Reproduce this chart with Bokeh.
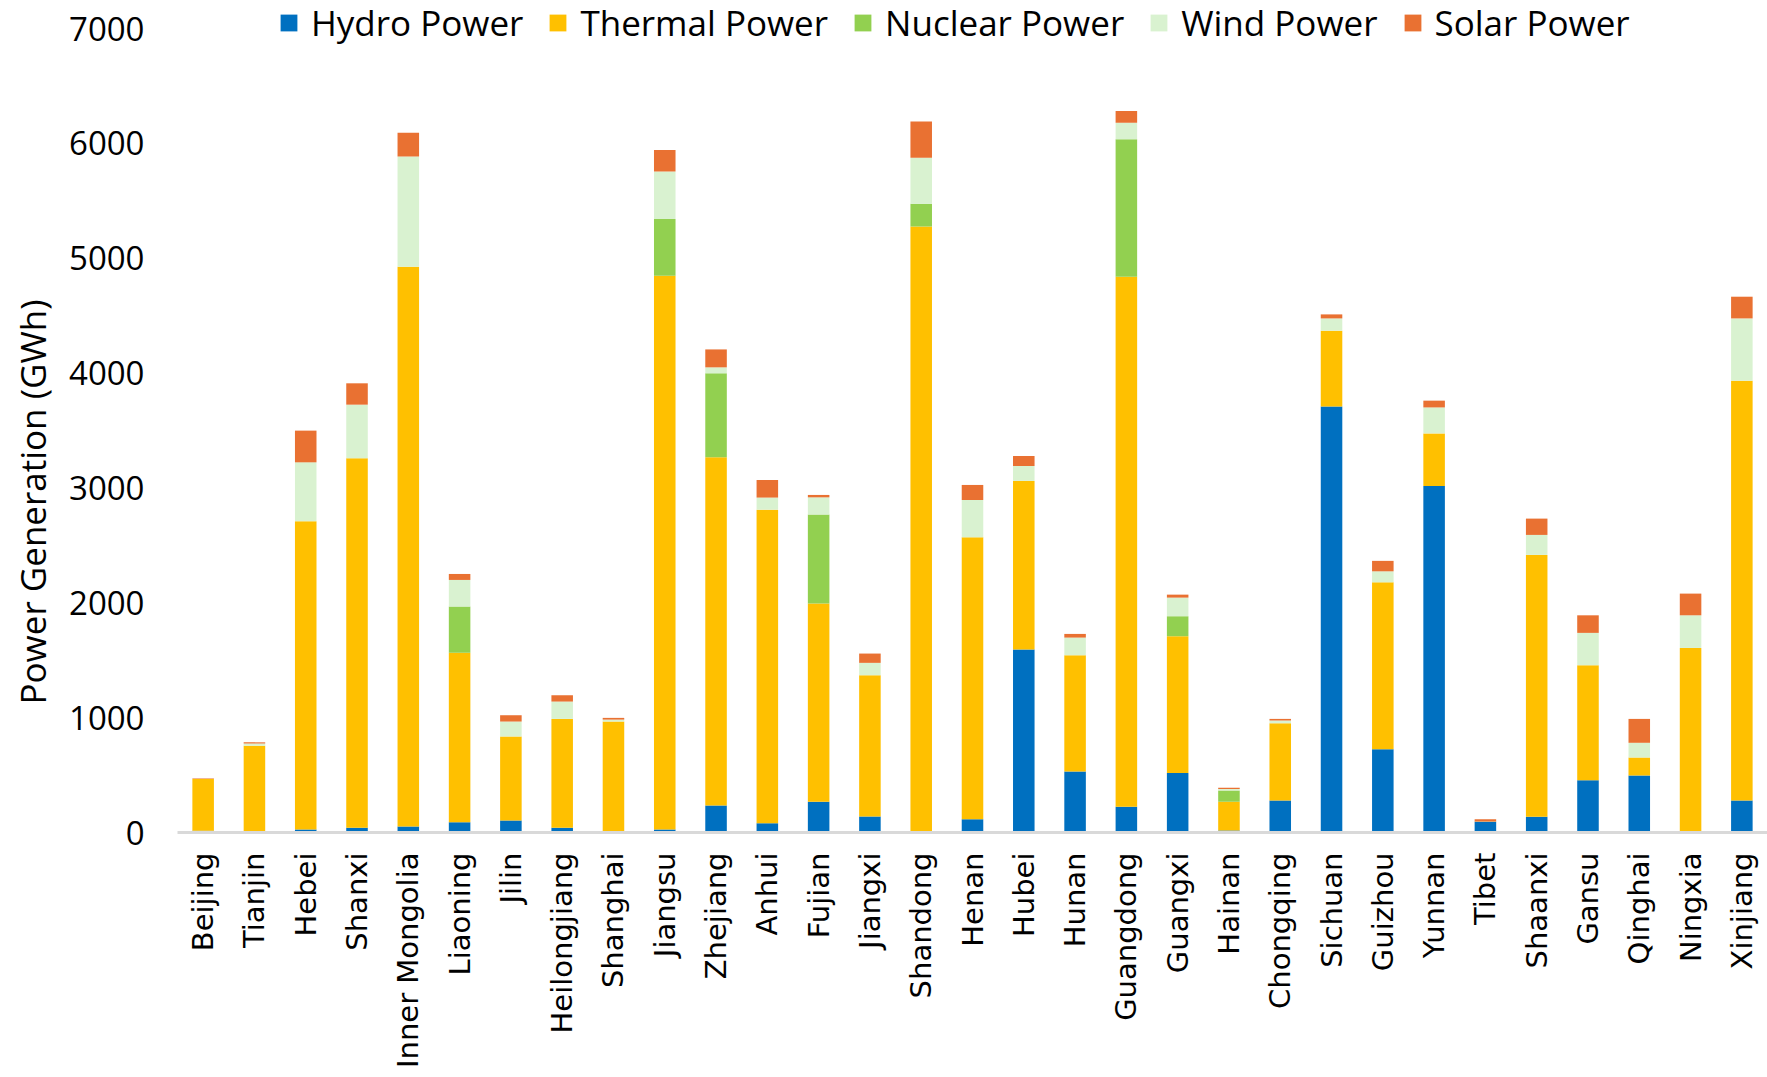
import math

from bokeh.embed import file_html
from bokeh.models import FactorRange, FixedTicker, Legend, LegendItem, Range1d, Title
from bokeh.plotting import figure
from bokeh.resources import INLINE

# Provincial power generation by source (GWh)
provinces = [
    "Beijing", "Tianjin", "Hebei", "Shanxi", "Inner Mongolia", "Liaoning", "Jilin",
    "Heilongjiang", "Shanghai", "Jiangsu", "Zhejiang", "Anhui", "Fujian", "Jiangxi",
    "Shandong", "Henan", "Hubei", "Hunan", "Guangdong", "Guangxi", "Hainan",
    "Chongqing", "Sichuan", "Guizhou", "Yunnan", "Tibet", "Shaanxi", "Gansu",
    "Qinghai", "Ningxia", "Xinjiang",
]
hydro = [15, 0, 26, 41, 52, 90, 104, 41, 0, 26, 235, 81, 267, 139, 0, 116, 1593,
         531, 224, 519, 17, 279, 3708, 725, 3017, 93, 137, 455, 496, 12, 279]
thermal = [450, 755, 2684, 3217, 4874, 1474, 732, 948, 966, 4822, 3032, 2730, 1726,
           1230, 5277, 2454, 1468, 1012, 4615, 1190, 250, 672, 661, 1453, 458, 2,
           2280, 1001, 157, 1595, 3655]
nuclear = [0, 0, 0, 0, 0, 403, 0, 0, 0, 493, 731, 0, 775, 0, 197, 0, 0, 0, 1198,
           174, 99, 0, 0, 0, 0, 0, 0, 0, 0, 0, 0]
wind = [3, 20, 513, 467, 960, 232, 130, 151, 17, 415, 52, 105, 150, 108, 401, 325,
        130, 154, 142, 162, 12, 24, 107, 96, 226, 0, 174, 282, 128, 284, 542]
solar = [5, 10, 276, 186, 206, 52, 55, 55, 15, 186, 156, 153, 21, 81, 316, 131, 87,
         32, 102, 26, 11, 14, 35, 91, 59, 21, 142, 153, 208, 189, 189]

sources = ["Hydro Power", "Thermal Power", "Nuclear Power", "Wind Power", "Solar Power"]
keys = ["hydro", "thermal", "nuclear", "wind", "solar"]
colors = ["#0070C0", "#FFC000", "#92D050", "#D9F2D0", "#E97132"]

data = dict(province=provinces, hydro=hydro, thermal=thermal, nuclear=nuclear,
            wind=wind, solar=solar)

FONT = "Open Sans"
FRAME_H = 832

p = figure(
    width=1767, height=1077,
    x_range=FactorRange(*provinces, range_padding=0),
    y_range=Range1d(0, 7244),
    output_backend="svg", toolbar_location=None,
    min_border_left=176, min_border_right=0, min_border_top=0, min_border_bottom=245,
    outline_line_color=None, background_fill_color="white", border_fill_color="white",
)

renderers = p.vbar_stack(keys, x="province", width=0.42, color=colors,
                         line_color=None, source=data)

p.xgrid.visible = False
p.ygrid.visible = False

# value axis
p.yaxis.ticker = FixedTicker(ticks=[0, 1000, 2000, 3000, 4000, 5000, 6000, 7000])
p.yaxis.axis_line_color = None
p.yaxis.major_tick_line_color = None
p.yaxis.minor_tick_line_color = None
p.yaxis.major_tick_out = 0
p.yaxis.major_label_standoff = 33
p.yaxis.major_label_text_font = FONT
p.yaxis.major_label_text_font_size = "33px"
p.yaxis.major_label_text_color = "black"

# value axis title, placed along the 0-7000 span (starts 128px above the baseline)
p.add_layout(Title(
    text="Power Generation (GWh)", align="left", vertical_align="top",
    offset=128, standoff=17,
    text_font=FONT, text_font_size="35px", text_font_style="normal",
    text_color="black",
), "left")

# province axis
p.xaxis.axis_line_color = "#D9D9D9"
p.xaxis.axis_line_width = 3
p.xaxis.major_tick_line_color = None
p.xaxis.minor_tick_line_color = None
p.xaxis.major_tick_out = 0
p.xaxis.major_label_orientation = math.pi / 2
p.xaxis.major_label_standoff = 20
p.xaxis.major_label_text_font = "DejaVu Sans"
p.xaxis.major_label_text_font_size = "29px"
p.xaxis.major_label_text_color = "black"

legend = Legend(
    items=[LegendItem(label=s, renderers=[r]) for s, r in zip(sources, renderers)],
    orientation="horizontal",
    location=(101, FRAME_H - 46),
    padding=0, margin=0, spacing=24,
    glyph_width=21, glyph_height=21, label_standoff=12,
    label_text_font=FONT, label_text_font_size="35px", label_text_color="black",
    border_line_color=None, background_fill_alpha=0,
)
p.add_layout(legend, "center")

open("out.html", "w").write(file_html(p, INLINE))
